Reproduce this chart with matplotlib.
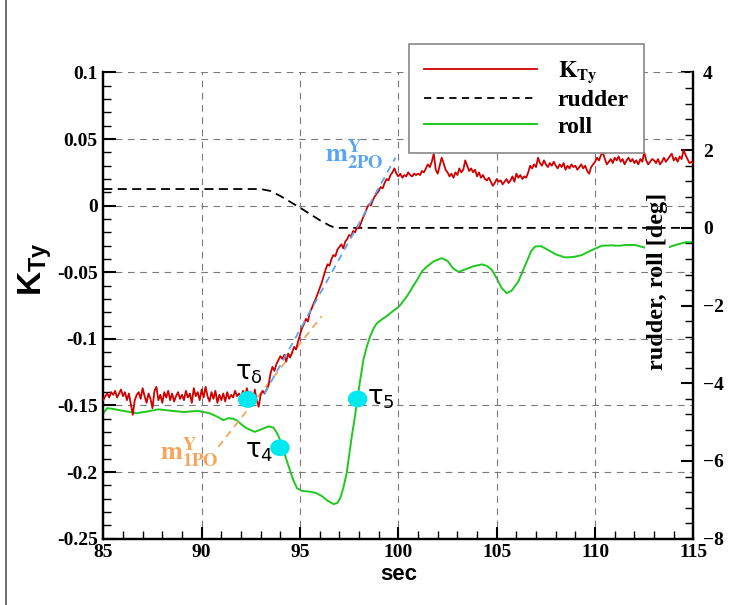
import numpy as np
import matplotlib
matplotlib.use("Agg")
import matplotlib.pyplot as plt
from matplotlib.lines import Line2D
from matplotlib.patches import Ellipse
from matplotlib.ticker import MultipleLocator, AutoMinorLocator

plt.rcParams["mathtext.fontset"] = "custom"
plt.rcParams["mathtext.rm"] = "Liberation Sans"
plt.rcParams["mathtext.bf"] = "Liberation Sans:bold"
plt.rcParams["mathtext.it"] = "Liberation Sans:italic"

# --- K_Ty force coefficient, sampled every 0.1 s from 85 to 115 s ---
t_k = np.round(np.arange(85.0, 115.05, 0.1), 2)
k_ty = [
    -0.146, -0.143, -0.141, -0.144, -0.140, -0.142, -0.139, -0.144, -0.141, -0.138,
    -0.143, -0.140, -0.146, -0.141, -0.149, -0.157, -0.146, -0.142, -0.140, -0.145,
    -0.137, -0.143, -0.148, -0.141, -0.145, -0.152, -0.139, -0.136, -0.146, -0.142,
    -0.148, -0.140, -0.144, -0.139, -0.146, -0.141, -0.147, -0.143, -0.140, -0.145,
    -0.142, -0.146, -0.139, -0.144, -0.141, -0.148, -0.137, -0.143, -0.140, -0.146,
    -0.138, -0.144, -0.136, -0.143, -0.147, -0.140, -0.145, -0.139, -0.148, -0.142,
    -0.146, -0.141, -0.147, -0.140, -0.145, -0.142, -0.144, -0.139, -0.143, -0.141,
    -0.145, -0.139, -0.143, -0.137, -0.144, -0.140, -0.150, -0.138, -0.146, -0.151,
    -0.142, -0.139, -0.141, -0.138, -0.135, -0.126, -0.121, -0.124, -0.119, -0.116,
    -0.113, -0.115, -0.112, -0.117, -0.111, -0.114, -0.110, -0.106, -0.108, -0.102,
    -0.097, -0.092, -0.089, -0.085, -0.087, -0.080, -0.077, -0.073, -0.070, -0.066,
    -0.062, -0.058, -0.053, -0.048, -0.044, -0.045, -0.040, -0.037, -0.038, -0.033,
    -0.031, -0.029, -0.032, -0.027, -0.025, -0.022, -0.023, -0.019, -0.020, -0.016,
    -0.017, -0.013, -0.009, -0.006, -0.002, 0.001, 0.000, 0.004, 0.007, 0.009,
    0.011, 0.014, 0.013, 0.017, 0.020, 0.019, 0.023, 0.025, 0.028, 0.024,
    0.022, 0.024, 0.021, 0.023, 0.022, 0.025, 0.023, 0.022, 0.024, 0.023,
    0.024, 0.023, 0.026, 0.025, 0.028, 0.031, 0.029, 0.033, 0.039, 0.027,
    0.024, 0.030, 0.036, 0.032, 0.027, 0.025, 0.022, 0.024, 0.021, 0.025,
    0.023, 0.028, 0.025, 0.027, 0.034, 0.030, 0.026, 0.028, 0.025, 0.027,
    0.022, 0.025, 0.021, 0.023, 0.020, 0.019, 0.021, 0.018, 0.015, 0.017,
    0.020, 0.018, 0.019, 0.016, 0.018, 0.020, 0.017, 0.019, 0.022, 0.018,
    0.024, 0.021, 0.023, 0.020, 0.022, 0.021, 0.025, 0.030, 0.028, 0.031,
    0.029, 0.036, 0.032, 0.030, 0.034, 0.031, 0.029, 0.032, 0.030, 0.033,
    0.030, 0.028, 0.031, 0.029, 0.032, 0.027, 0.030, 0.028, 0.031, 0.029,
    0.030, 0.027, 0.029, 0.031, 0.028, 0.030, 0.026, 0.024, 0.029, 0.031,
    0.033, 0.036, 0.034, 0.038, 0.040, 0.035, 0.031, 0.033, 0.035, 0.032,
    0.036, 0.034, 0.037, 0.033, 0.035, 0.031, 0.034, 0.036, 0.033, 0.035,
    0.032, 0.034, 0.031, 0.035, 0.033, 0.040, 0.034, 0.031, 0.033, 0.035,
    0.034, 0.032, 0.035, 0.031, 0.033, 0.036, 0.033, 0.035, 0.037, 0.039,
    0.034, 0.036, 0.033, 0.037, 0.035, 0.042, 0.038, 0.035, 0.032, 0.033,
    0.031,
]

# --- rudder angle [deg] ---
t_rudder = [85.0, 93.0, 93.5, 94.0, 94.5, 95.0, 95.5, 96.0, 96.5, 96.8, 115.0]
rudder = [1.0, 1.0, 0.95, 0.82, 0.67, 0.52, 0.36, 0.20, 0.06, 0.0, 0.0]

# --- roll angle [deg] ---
t_roll = [85.0, 85.2, 85.5, 85.9, 86.7, 87.3, 87.8, 88.5, 89.1, 89.8,
          90.4, 90.8, 91.1, 91.35, 91.6, 91.8, 92.05, 92.3, 92.7, 93.1,
          93.4, 93.65, 93.85, 94.0, 94.3, 94.65, 94.85, 95.1, 95.5, 95.8,
          96.1, 96.4, 96.7, 96.9, 97.05, 97.2, 97.37, 97.5, 97.63, 97.78,
          97.91, 98.05, 98.22, 98.4, 98.56, 98.75, 98.9, 99.2, 99.41, 99.7,
          100.0, 100.17, 100.45, 100.68, 101.0, 101.2, 101.44, 101.8, 102.2, 102.5,
          102.8, 103.05, 103.4, 103.8, 104.24, 104.5, 104.75, 105.0, 105.25, 105.51,
          105.75, 106.1, 106.5, 106.75, 106.95, 107.25, 107.62, 108.0, 108.47, 108.9,
          109.32, 109.8, 110.34, 110.8, 111.18, 111.6, 112.03, 112.54, 113.0, 113.55,
          113.9, 114.23, 114.6, 114.91, 115.0]
roll = [-4.77, -4.64, -4.66, -4.70, -4.77, -4.72, -4.67, -4.71, -4.74, -4.71,
        -4.77, -4.86, -4.95, -4.90, -4.91, -4.96, -5.07, -5.16, -5.25, -5.17,
        -5.11, -5.14, -5.30, -5.47, -5.95, -6.48, -6.70, -6.77, -6.79, -6.82,
        -6.90, -7.02, -7.11, -7.08, -6.95, -6.70, -6.32, -5.85, -5.37, -4.90,
        -4.43, -3.95, -3.40, -3.05, -2.80, -2.58, -2.46, -2.34, -2.27, -2.15,
        -2.04, -1.94, -1.75, -1.56, -1.30, -1.12, -1.00, -0.86, -0.78, -0.85,
        -1.05, -1.13, -1.07, -0.99, -0.94, -0.98, -1.08, -1.30, -1.55, -1.68,
        -1.62, -1.38, -0.90, -0.60, -0.48, -0.47, -0.57, -0.68, -0.76, -0.75,
        -0.70, -0.58, -0.46, -0.45, -0.46, -0.44, -0.44, -0.51, -0.57, -0.54,
        -0.47, -0.42, -0.37, -0.37, -0.37]

# --- first/second order slope fits of K_Ty ---
fit_1po_t = [90.85, 96.1]
fit_1po_k = [-0.181, -0.083]
fit_2po_t = [93.2, 99.85]
fit_2po_k = [-0.141, 0.036]

# --- time-constant markers (t, K_Ty) ---
tau_t = [92.34, 93.98, 97.93]
tau_k = [-0.1455, -0.1817, -0.1451]

k_ticks = [-0.25, -0.2, -0.15, -0.1, -0.05, 0, 0.05, 0.1]
k_tick_labels = ["-0.25", "-0.2", "-0.15", "-0.1", "-0.05", "0", "0.05", "0.1"]

RED = "#D00000"
GREEN = "#1FC81F"
BLUE = "#5AA5F2"
ORANGE = "#F7A45A"
CYAN = "#00E8F0"
GRID = "#7a7a7a"
SERIF = "Liberation Serif"

fig = plt.figure(figsize=(7.41, 6.05), dpi=100)
ax = fig.add_axes([0.1394, 0.1096, 0.9358 - 0.1394, 0.8802 - 0.1096])
ax2 = ax.twinx()
# force axis drawn above the angle axis
ax.set_zorder(ax2.get_zorder() + 1)
ax.patch.set_visible(False)

# dashed grid on the major ticks
for v in [90, 95, 100, 105, 110]:
    ax.axvline(v, color=GRID, lw=0.8, ls=(0, (6, 5)), zorder=0)
for v in k_ticks[1:]:
    ax.axhline(v, color=GRID, lw=0.8, ls=(0, (6, 5)), zorder=0)

# angle curves on the right axis
ax2.plot(t_rudder, rudder, color="black", lw=1.3, ls=(0, (5, 3)), zorder=3)
ax2.plot(t_roll, roll, color=GREEN, lw=1.4, zorder=2)
ax2.text(0.887, 0.5355, "rudder, roll [deg]", transform=fig.transFigure,
         rotation=90, ha="center", va="center", family=SERIF,
         weight="bold", fontsize=17.5, zorder=2.5,
         bbox=dict(facecolor="white", edgecolor="none", pad=1))

# force coefficient and fits on the left axis
ax.plot(t_k, k_ty, color=RED, lw=1.3, zorder=3)
ax.plot(fit_1po_t, fit_1po_k, color=ORANGE, lw=1.3, ls=(0, (4, 3)), zorder=2)
ax.plot(fit_2po_t, fit_2po_k, color=BLUE, lw=1.3, ls=(0, (4, 3)), zorder=4)

for tt, kk in zip(tau_t, tau_k):
    ax.add_patch(Ellipse((tt, kk), 0.92, 0.0115, color=CYAN, zorder=5))

tau_style = dict(family="DejaVu Sans", fontsize=18.5, color="black", zorder=6,
                 va="baseline", ha="left")
ax.text(91.68, -0.1309, r"τ$_{\mathregular{δ}}$", **tau_style)
ax.text(92.18, -0.1894, r"τ$_{\mathregular{4}}$", **tau_style)
ax.text(98.41, -0.1496, r"τ$_{\mathregular{5}}$", **tau_style)

ax.text(96.27, 0.0328, r"$\mathbf{m}^{\mathbf{Y}}_{\mathbf{2PO}}$", color=BLUE,
        fontsize=19, math_fontfamily="stix", va="baseline", ha="left", zorder=6)
ax.text(87.88, -0.191, r"$\mathbf{m}^{\mathbf{Y}}_{\mathbf{1PO}}$", color=ORANGE,
        fontsize=19, math_fontfamily="stix", va="baseline", ha="left", zorder=6)

# axes limits and ticks
ax.set_xlim(85, 115)
ax.set_ylim(-0.25, 0.1)
ax2.set_ylim(-8, 4)
ax.xaxis.set_major_locator(MultipleLocator(5))
ax.xaxis.set_minor_locator(AutoMinorLocator(5))
ax.set_yticks(k_ticks)
ax.set_yticklabels(k_tick_labels)
ax.yaxis.set_minor_locator(AutoMinorLocator(5))
ax2.yaxis.set_major_locator(MultipleLocator(2))
ax2.yaxis.set_minor_locator(AutoMinorLocator(5))

for a in (ax, ax2):
    a.tick_params(which="major", direction="in", length=9, width=1.5,
                  labelsize=14, pad=4)
    a.tick_params(which="minor", direction="in", length=5.5, width=1.0)
    for lab in a.get_xticklabels() + a.get_yticklabels():
        lab.set_family(SERIF)
        lab.set_weight("bold")
    a.spines["top"].set_visible(False)
    for s in ("left", "right", "bottom"):
        a.spines[s].set_linewidth(1.6)
ax.tick_params(axis="y", right=False)
ax2.tick_params(axis="y", left=False, pad=7)

ax.set_xlabel("sec", family="Liberation Sans", weight="bold", fontsize=16, labelpad=2)
fig.text(0.047, 0.555, r"$\mathbf{K}_{\mathbf{Ty}}$", rotation=90,
         ha="center", va="center", fontsize=24)

# legend
handles = [
    Line2D([], [], color=RED, lw=1.3),
    Line2D([], [], color="black", lw=1.3, ls=(0, (4, 3))),
    Line2D([], [], color=GREEN, lw=1.4),
]
labels = [r"$\mathbf{K}_{\mathbf{Ty}}$", "rudder", "roll"]
leg = ax.legend(handles, labels, loc="upper left",
                bbox_to_anchor=(409 / 741, 1 - 44 / 605),
                bbox_transform=fig.transFigure, borderaxespad=0,
                prop=dict(family=SERIF, weight="bold", size=17),
                handlelength=4.75, handletextpad=0.9, labelspacing=0.2,
                borderpad=0.65, fancybox=False, framealpha=1,
                edgecolor="#888888")
leg.get_frame().set_linewidth(1.2)
for txt in leg.get_texts():
    txt.set_math_fontfamily("stix")
leg.set_zorder(10)

# outer page frame
fig.add_artist(Line2D([6 / 741, 6 / 741], [0, 1], color="#555555", lw=1.2,
                      transform=fig.transFigure))

fig.savefig("out.png", dpi=100)
